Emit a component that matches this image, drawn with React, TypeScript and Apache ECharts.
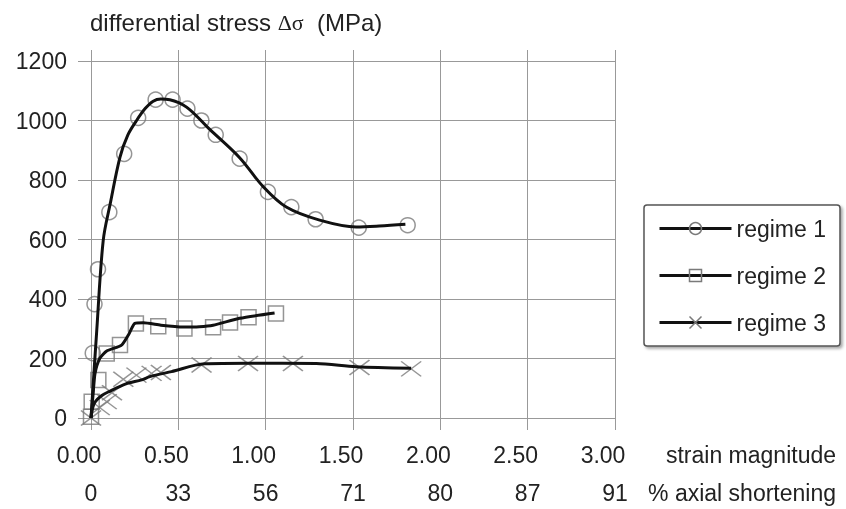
import React, { useEffect, useRef } from 'react';
import * as echarts from 'echarts';

const strainLabels = ['0.00', '0.50', '1.00', '1.50', '2.00', '2.50', '3.00'];
const shorteningLabels = ['0', '33', '56', '71', '80', '87', '91'];
const stressTicks = [0, 200, 400, 600, 800, 1000, 1200];
const seriesNames = ['regime 1', 'regime 2', 'regime 3'];

// fitted curves (strain, stress MPa)
const regime1Curve = [
  [0, 0], [0.033, 295], [0.07, 597], [0.11, 720], [0.166, 877], [0.21, 950], [0.261, 1000],
  [0.31, 1040], [0.356, 1065], [0.4, 1072], [0.451, 1070], [0.547, 1045], [0.68, 970],
  [0.851, 875], [0.985, 778], [1.118, 709], [1.309, 665], [1.518, 642], [1.65, 645], [1.8, 651],
];
const regime2Curve = [
  [0, 0], [0.012, 80], [0.023, 150], [0.05, 200], [0.09, 225], [0.175, 245], [0.215, 280],
  [0.251, 318], [0.3, 320], [0.4, 312], [0.527, 306], [0.62, 307], [0.699, 312], [0.851, 335],
  [1.051, 353],
];
const regime3Curve = [
  [0, 0], [0.01, 35], [0.025, 55], [0.06, 75], [0.1, 88], [0.2, 115], [0.29, 128], [0.337, 139],
  [0.461, 156], [0.651, 182], [0.9, 184], [1.29, 183], [1.518, 172], [1.833, 167],
];

// measured points (markers)
const regime1Points = [
  [0.01, 218], [0.02, 383], [0.04, 500], [0.105, 692], [0.19, 888], [0.27, 1009], [0.37, 1070],
  [0.467, 1070], [0.552, 1040], [0.632, 1000], [0.714, 952], [0.851, 872], [1.013, 760],
  [1.147, 709], [1.286, 668], [1.533, 640], [1.813, 648],
];
const regime2Points = [
  [0, 4], [0.004, 55], [0.042, 128], [0.09, 217], [0.166, 245], [0.257, 318], [0.385, 308],
  [0.535, 301], [0.699, 305], [0.796, 321], [0.902, 339], [1.059, 351],
];
const regime3Points = [
  [0, 0], [0.05, 35], [0.09, 55], [0.12, 85], [0.185, 130], [0.26, 144], [0.347, 150],
  [0.4, 153], [0.633, 178], [0.899, 183], [1.156, 183], [1.537, 170], [1.833, 165],
];

const FONT = 'Liberation Sans, Arial, sans-serif';
const TEXT = '#222';
const GRID = '#999';
const MARK = '#7a7a7a';
const LINE = '#111';
const CROSS = 'path://M0,0L20,14M20,0L0,14';
const FS = 23;

const symbols = ['circle', 'rect', CROSS];
const sizes: any[] = [15, 15, [20, 15]];
const curves = [regime1Curve, regime2Curve, regime3Curve];
const points = [regime1Points, regime2Points, regime3Points];
const smooths = [0.35, 0.2, 0.3];

export default function App() {
  const ref = useRef<HTMLDivElement>(null);
  useEffect(() => {
    const chart = echarts.init(ref.current!, null, { renderer: 'svg' });
    const markerStyle = { color: 'rgba(0,0,0,0)', borderColor: MARK, borderWidth: 1.5 };
    const lineSeries = seriesNames.map((name, i) => ({
      type: 'line',
      name,
      data: curves[i],
      smooth: smooths[i],
      symbol: symbols[i],
      symbolSize: sizes[i],
      showSymbol: false,
      z: 3,
      itemStyle: markerStyle,
      lineStyle: { color: LINE, width: 3 },
      emphasis: { disabled: true },
    }));
    const pointSeries = seriesNames.map((name, i) => ({
      type: 'scatter',
      name,
      data: points[i],
      symbol: symbols[i],
      symbolSize: sizes[i],
      z: 2,
      itemStyle: markerStyle,
      emphasis: { disabled: true },
    }));
    const option: any = {
      animation: false,
      textStyle: { fontFamily: FONT, color: TEXT },
      title: {
        text: '{a|differential stress }{b|Δσ}{a|  (MPa)}',
        left: 85,
        top: 5,
        textStyle: {
          fontWeight: 'normal',
          rich: {
            a: { fontFamily: FONT, fontSize: 24, fontWeight: 'normal', color: TEXT },
            b: { fontFamily: 'Liberation Serif, serif', fontSize: 22, fontWeight: 'normal', color: TEXT },
          },
        },
      },
      grid: { left: 91, right: 231, top: 61, bottom: 91, containLabel: false },
      xAxis: [
        {
          type: 'value', min: 0, max: 3, interval: 0.5, position: 'bottom',
          axisLine: { show: true, lineStyle: { color: GRID, width: 1 } },
          axisTick: { show: true, length: 12, lineStyle: { color: GRID } },
          splitLine: { show: true, lineStyle: { color: GRID, width: 1 } },
          axisLabel: {
            formatter: (v: number) => strainLabels[Math.round(v / 0.5)],
            fontSize: FS, fontFamily: FONT, color: TEXT, margin: 25, padding: [0, 24, 0, 0],
          },
        },
        {
          type: 'value', min: 0, max: 3, interval: 0.5, position: 'bottom', offset: 0,
          axisLine: { show: false }, axisTick: { show: false }, splitLine: { show: false },
          axisLabel: {
            formatter: (v: number) => shorteningLabels[Math.round(v / 0.5)],
            fontSize: FS, fontFamily: FONT, color: TEXT, margin: 63,
          },
        },
        {
          type: 'value', min: 0, max: 3, interval: 0.5, position: 'top',
          axisLine: { show: true, lineStyle: { color: GRID, width: 1 } },
          axisTick: { show: true, length: 11, lineStyle: { color: GRID } },
          splitLine: { show: false }, axisLabel: { show: false },
        },
      ],
      yAxis: [
        {
          type: 'value', min: stressTicks[0], max: stressTicks[stressTicks.length - 1], interval: 200,
          position: 'left',
          axisLine: { show: true, lineStyle: { color: GRID, width: 1 } },
          axisTick: { show: true, length: 13, lineStyle: { color: GRID } },
          splitLine: { show: true, lineStyle: { color: GRID, width: 1 } },
          axisLabel: {
            fontSize: FS, fontFamily: FONT, color: TEXT, margin: 24,
            formatter: (v: number) => String(v),
          },
        },
        {
          type: 'value', min: stressTicks[0], max: stressTicks[stressTicks.length - 1], interval: 200,
          position: 'right',
          axisLine: { show: true, lineStyle: { color: GRID, width: 1 } },
          axisTick: { show: true, length: 13, lineStyle: { color: GRID } },
          splitLine: { show: false }, axisLabel: { show: false },
        },
      ],
      legend: {
        data: seriesNames,
        orient: 'vertical',
        left: 644,
        top: 205,
        itemWidth: 72,
        itemHeight: 15,
        itemGap: 24,
        padding: [12, 14, 12, 14],
        backgroundColor: '#fff',
        borderColor: '#555',
        borderWidth: 1.5,
        borderRadius: 3,
        shadowColor: 'rgba(0,0,0,0.35)',
        shadowBlur: 3,
        shadowOffsetX: 2,
        shadowOffsetY: 2,
        selectedMode: false,
        textStyle: { fontSize: FS, fontFamily: FONT, color: TEXT },
        itemStyle: { color: 'rgba(0,0,0,0)', borderColor: MARK, borderWidth: 1.5 },
        lineStyle: { color: LINE, width: 3 },
      },
      graphic: [
        {
          type: 'text', right: 10, top: 443,
          style: { text: 'strain magnitude', fontSize: FS, fontFamily: FONT, fill: TEXT },
        },
        {
          type: 'text', right: 10, top: 481,
          style: { text: '% axial shortening', fontSize: FS, fontFamily: FONT, fill: TEXT },
        },
      ],
      series: [...lineSeries, ...pointSeries],
    };
    chart.setOption(option);
    return () => chart.dispose();
  }, []);
  return <div ref={ref} style={{ position: 'fixed', left: 0, top: 0, width: 846, height: 509 }} />;
}
